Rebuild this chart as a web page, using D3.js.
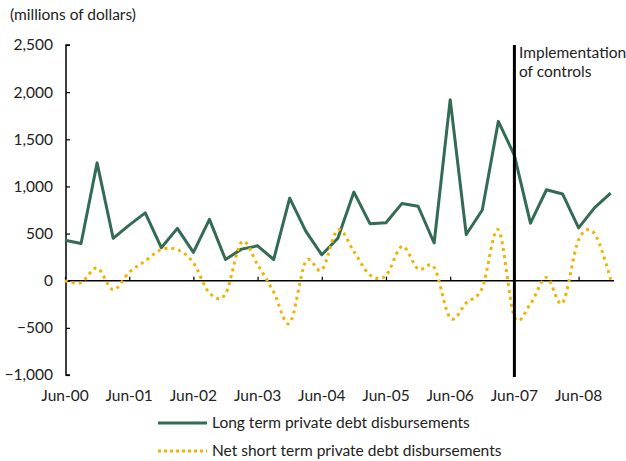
<!DOCTYPE html>
<html>
<head>
<meta charset="utf-8">
<script src="https://cdn.jsdelivr.net/npm/d3@7"></script>
<style>
  body { margin: 0; background: #fff; }
  svg text { font-family: Lato, "Open Sans", sans-serif; fill: #222; font-size: 15.5px; }
</style>
</head>
<body>
<svg id="chart" width="626" height="461"></svg>
<script>
/* ── DATA ───────────────────────────────────────────────────────────────────── */
// quarterly, Jun-00 .. Dec-08
const tickLabels = ['Jun-00', 'Jun-01', 'Jun-02', 'Jun-03', 'Jun-04', 'Jun-05', 'Jun-06', 'Jun-07', 'Jun-08'];

const longTerm = [430, 395, 1250, 450, 590, 720, 350, 555, 300, 650, 225, 335,
                  370, 225, 875, 525, 275, 450, 940, 605, 615, 820, 790, 400,
                  1920, 490, 750, 1690, 1330, 610, 965, 920, 560, 775, 930];

const shortTerm = [0, -20, 135, -95, 90, 210, 330, 330, 190, -130, -140, 410,
                   170, -120, -450, 205, 115, 540, 310, 60, 55, 365, 125, 140,
                   -395, -235, -75, 540, -380, -245, 35, -235, 435, 500, 10];

const yTicks = [-1000, -500, 0, 500, 1000, 1500, 2000, 2500];
const controlsIndex = 28;   // Jun-07

const SERIES = [
  { name: 'Long term private debt disbursements',      values: longTerm,  color: '#336b55', dotted: false },
  { name: 'Net short term private debt disbursements', values: shortTerm, color: '#f0b400', dotted: true }
];

/* ── SCALES ─────────────────────────────────────────────────────────────────── */
const svg = d3.select('#chart');
const x = d3.scaleLinear().domain([0, longTerm.length - 1]).range([65, 610.7]);
const y = d3.scaleLinear().domain([-1000, 2500]).range([375, 45]);
const fmt = d3.format(',');

/* ── AXES ───────────────────────────────────────────────────────────────────── */
svg.append('text')
  .attr('x', 10).attr('y', 20)
  .text('(millions of dollars)');

const yAxis = svg.append('g')
  .attr('transform', 'translate(66,0)')
  .call(d3.axisRight(y).tickValues(yTicks).tickSize(4).tickFormat(() => ''));
yAxis.select('.domain').attr('stroke', '#000').attr('stroke-width', 1.5).attr('d', `M4,${y(2500)}H0V${y(-1000)}H4`);
yAxis.selectAll('.tick line').attr('stroke', '#000').attr('stroke-width', 1.2);

svg.append('g').selectAll('text')
  .data(yTicks)
  .join('text')
  .attr('x', 53).attr('y', d => y(d))
  .attr('dy', '0.35em')
  .attr('text-anchor', 'end')
  .text(d => fmt(d));

const tickIdx = tickLabels.map((_, i) => i * 4);
const xAxis = svg.append('g')
  .attr('transform', `translate(0,${y(0)})`)
  .call(d3.axisTop(x).tickValues(tickIdx).tickSize(4).tickFormat(() => ''));
xAxis.select('.domain').attr('stroke', '#000').attr('stroke-width', 1.5).attr('d', `M66,0H614`);
xAxis.selectAll('.tick line').attr('stroke', '#000').attr('stroke-width', 1.2);

svg.append('g').selectAll('text')
  .data(tickLabels)
  .join('text')
  .attr('x', (d, i) => x(i * 4))
  .attr('y', 401)
  .attr('text-anchor', 'middle')
  .text(d => d);

/* ── LINES ──────────────────────────────────────────────────────────────────── */
SERIES.forEach(s => {
  const line = d3.line()
    .x((d, i) => x(i))
    .y(d => y(d))
    .curve(s.dotted ? d3.curveCardinal.tension(0) : d3.curveLinear);
  svg.append('path')
    .datum(s.values)
    .attr('d', line)
    .attr('fill', 'none')
    .attr('stroke', s.color)
    .attr('stroke-width', 3)
    .attr('stroke-dasharray', s.dotted ? '3,4' : null)
    .attr('stroke-linejoin', 'round');
});

/* ── CONTROLS MARKER ────────────────────────────────────────────────────────── */
svg.append('line')
  .attr('x1', x(controlsIndex)).attr('x2', x(controlsIndex))
  .attr('y1', 45).attr('y2', 377)
  .attr('stroke', '#000').attr('stroke-width', 3);

svg.append('text')
  .attr('x', 519).attr('y', 58)
  .selectAll('tspan')
  .data(['Implementation', 'of controls'])
  .join('tspan')
  .attr('x', 519)
  .attr('dy', (d, i) => i ? 19 : 0)
  .text(d => d);

/* ── LEGEND ─────────────────────────────────────────────────────────────────── */
const legend = svg.append('g');
SERIES.forEach((s, i) => {
  const ly = 423 + i * 28;
  legend.append('line')
    .attr('x1', 158).attr('x2', 207)
    .attr('y1', ly).attr('y2', ly)
    .attr('stroke', s.color)
    .attr('stroke-width', 3)
    .attr('stroke-dasharray', s.dotted ? '3,3' : null);
  legend.append('text')
    .attr('x', 212).attr('y', ly)
    .attr('dy', '0.35em')
    .text(s.name);
});
</script>
</body>
</html>
